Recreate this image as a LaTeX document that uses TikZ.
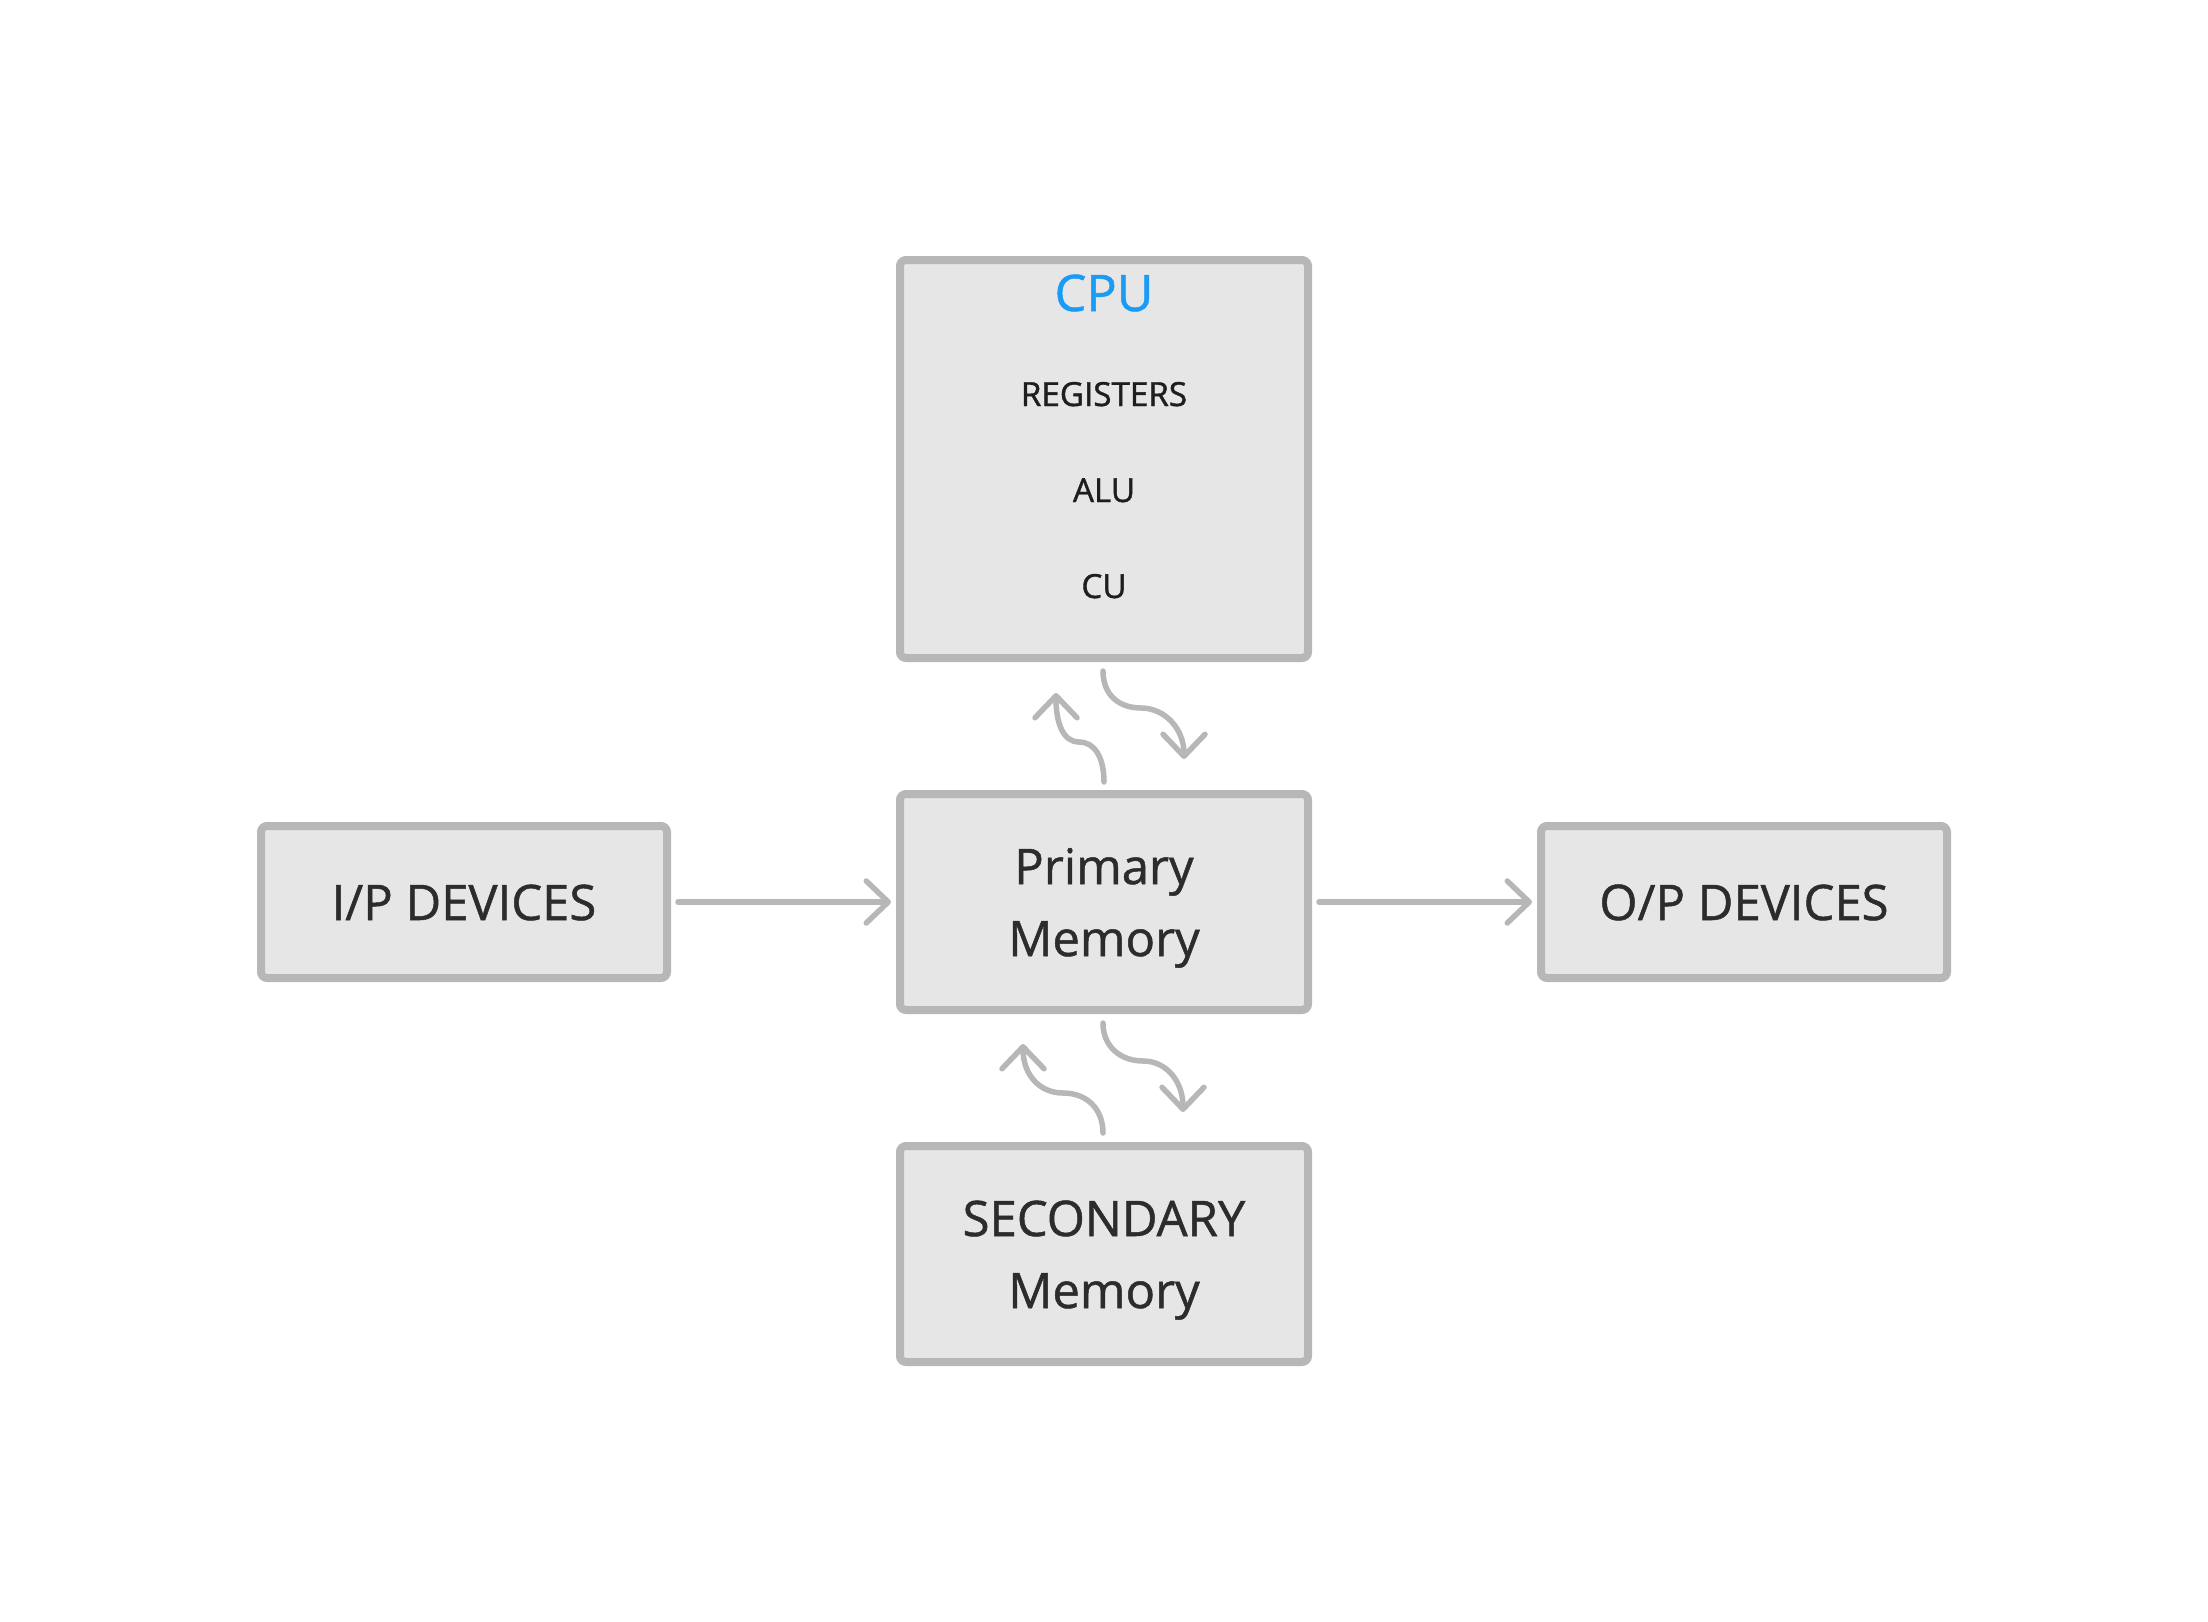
\documentclass[tikz,border=0pt]{standalone}
\usepackage{fontspec}
\setmainfont{Open Sans}
\newfontfamily\bigfont{Open Sans}[FakeBold=1.0]
\newfontfamily\smallfont{Open Sans}[FakeBold=1.2]
\usetikzlibrary{arrows.meta}
\definecolor{bordergray}{HTML}{B7B7B7}
\definecolor{boxfill}{HTML}{E6E6E6}
\definecolor{textdark}{HTML}{2C2C2C}
\definecolor{textsmall}{HTML}{1E1E1E}
\definecolor{cpublue}{HTML}{1A9BF5}
\begin{document}
\begin{tikzpicture}[x=0.5pt,y=-0.5pt,
  box/.style={draw=bordergray, fill=boxfill, line width=4pt, rounded corners=3pt, inner sep=0pt, anchor=center},
  bigtext/.style={font=\bigfont\fontsize{24.5}{36}\selectfont, text=textdark, anchor=base, inner sep=0pt},
  smalltext/.style={font=\smallfont\fontsize{16.6}{20}\selectfont, text=textsmall, anchor=base, inner sep=0pt},
  cputitle/.style={font=\bigfont\fontsize{25.2}{30}\selectfont, text=cpublue, anchor=base, inner sep=0pt},
  flow/.style={draw=bordergray, line width=2.75pt, line cap=round, -{Straight Barb[length=11pt,width=21pt,round]}}
]
\useasboundingbox (0,0) rectangle (2208,1622);

% boxes
\node[box, minimum width=204pt, minimum height=199pt] (cpu) at (1104,459) {};
\node[box, minimum width=204pt, minimum height=108pt] (pm) at (1104,902) {};
\node[box, minimum width=204pt, minimum height=108pt] (sm) at (1104,1254) {};
\node[box, minimum width=203pt, minimum height=76pt] (ip) at (464,902) {};
\node[box, minimum width=203pt, minimum height=76pt] (op) at (1744,902) {};

% texts
\node[cputitle] (cpuT) at (1104,311) {CPU};
\node[smalltext] (reg) at (1104,406) {REGISTERS};
\node[smalltext] (alu) at (1104,502) {ALU};
\node[smalltext] (cu) at (1104,598) {CU};
\node[bigtext] (pm1) at (1104,884) {Primary};
\node[bigtext] (pm2) at (1104,956) {Memory};
\node[bigtext] (sm1) at (1104,1236) {SECONDARY};
\node[bigtext] (sm2) at (1104,1308) {Memory};
\node[bigtext] (ipT) at (464,920) {I/P DEVICES};
\node[bigtext] (opT) at (1744,920) {O/P DEVICES};

% straight connectors
\draw[flow] ([xshift=3.5pt]ip.east) -- ([xshift=-2.5pt]pm.west);
\draw[flow] ([xshift=3.5pt]pm.east) -- ([xshift=-2.5pt]op.west);

% curved connectors
\coordinate (a1s) at (1103,671); \coordinate (a1m) at (1141,708); \coordinate (a1e) at (1184,759);
\draw[flow] (a1s) .. controls +(0,24) and +(-22,0) .. (a1m) .. controls +(24,0) and +(0,-30) .. (a1e);

\coordinate (a2s) at (1104,782); \coordinate (a2m) at (1079,742); \coordinate (a2e) at (1056,693);
\draw[flow] (a2s) .. controls +(0,-24) and +(16,0) .. (a2m) .. controls +(-16,0) and +(0,30) .. (a2e);

\coordinate (a3s) at (1103,1023); \coordinate (a3m) at (1143,1061); \coordinate (a3e) at (1183,1112);
\draw[flow] (a3s) .. controls +(0,24) and +(-22,0) .. (a3m) .. controls +(24,0) and +(0,-30) .. (a3e);

\coordinate (a4s) at (1103,1133); \coordinate (a4m) at (1063,1093); \coordinate (a4e) at (1023,1044);
\draw[flow] (a4s) .. controls +(0,-24) and +(24,0) .. (a4m) .. controls +(-24,0) and +(0,30) .. (a4e);
\end{tikzpicture}
\end{document}
